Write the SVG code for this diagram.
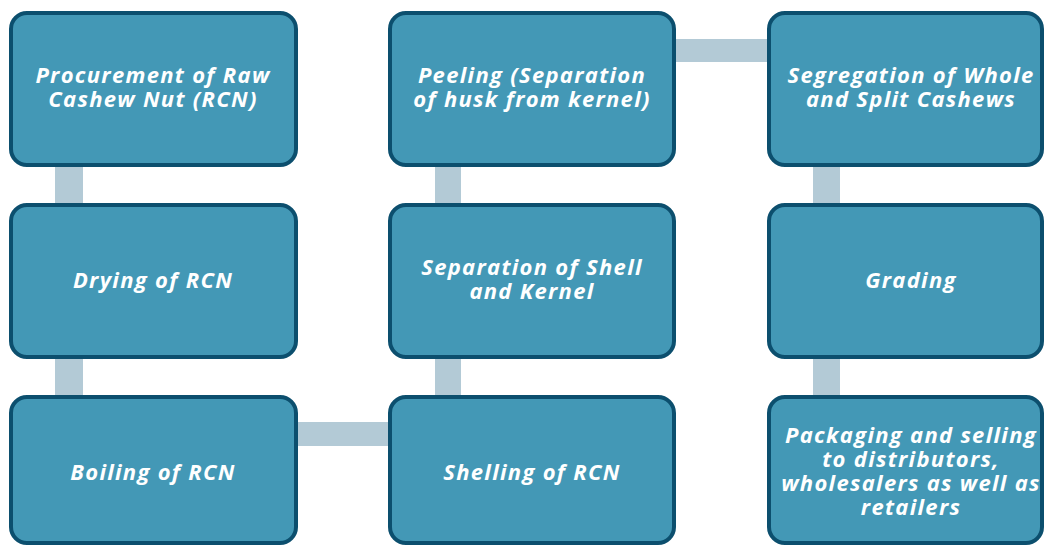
<svg xmlns="http://www.w3.org/2000/svg" width="1045" height="546" viewBox="0 0 1045 546">
<style>
.box{fill:#4398b6;stroke:#0c4f6e;stroke-width:4}
.con{fill:#b3cad6}
.t{fill:#ffffff;font-family:"Open Sans",Lato,sans-serif;font-weight:bold;font-style:italic;font-size:22px;letter-spacing:1.3px;text-anchor:middle}
</style>
<rect width="1045" height="546" fill="#ffffff"/>
<g id="connectors">
<rect class="con" x="55" y="165" width="28" height="40"/>
<rect class="con" x="55" y="357" width="28" height="40"/>
<rect class="con" x="296" y="422" width="94" height="24"/>
<rect class="con" x="435" y="357" width="26" height="40"/>
<rect class="con" x="435" y="165" width="26" height="40"/>
<rect class="con" x="674" y="39" width="95" height="23"/>
<rect class="con" x="813" y="165" width="27" height="40"/>
<rect class="con" x="813" y="357" width="27" height="40"/>
</g>
<g id="n1"><rect class="box" x="11" y="13" width="285" height="152" rx="16"/>
<text class="t" x="153" y="83">Procurement of Raw</text><text class="t" x="153" y="107">Cashew Nut (RCN)</text></g>
<g id="n2"><rect class="box" x="11" y="205" width="285" height="152" rx="16"/>
<text class="t" x="153" y="288">Drying of RCN</text></g>
<g id="n3"><rect class="box" x="11" y="397" width="285" height="146" rx="16"/>
<text class="t" x="153" y="480">Boiling of RCN</text></g>
<g id="n4"><rect class="box" x="390" y="397" width="284" height="146" rx="16"/>
<text class="t" x="532" y="480">Shelling of RCN</text></g>
<g id="n5"><rect class="box" x="390" y="205" width="284" height="152" rx="16"/>
<text class="t" x="532" y="275">Separation of Shell</text><text class="t" x="532" y="299">and Kernel</text></g>
<g id="n6"><rect class="box" x="390" y="13" width="284" height="152" rx="16"/>
<text class="t" x="532" y="83">Peeling (Separation</text><text class="t" x="532" y="107">of husk from kernel)</text></g>
<g id="n7"><rect class="box" x="769" y="13" width="273" height="152" rx="16"/>
<text class="t" x="911" y="83">Segregation of Whole</text><text class="t" x="911" y="107">and Split Cashews</text></g>
<g id="n8"><rect class="box" x="769" y="205" width="273" height="152" rx="16"/>
<text class="t" x="911" y="288">Grading</text></g>
<g id="n9"><rect class="box" x="769" y="397" width="273" height="146" rx="16"/>
<text class="t" x="911" y="443">Packaging and selling</text><text class="t" x="911" y="467">to distributors,</text><text class="t" x="911" y="491">wholesalers as well as</text><text class="t" x="911" y="515">retailers</text></g>
</svg>
